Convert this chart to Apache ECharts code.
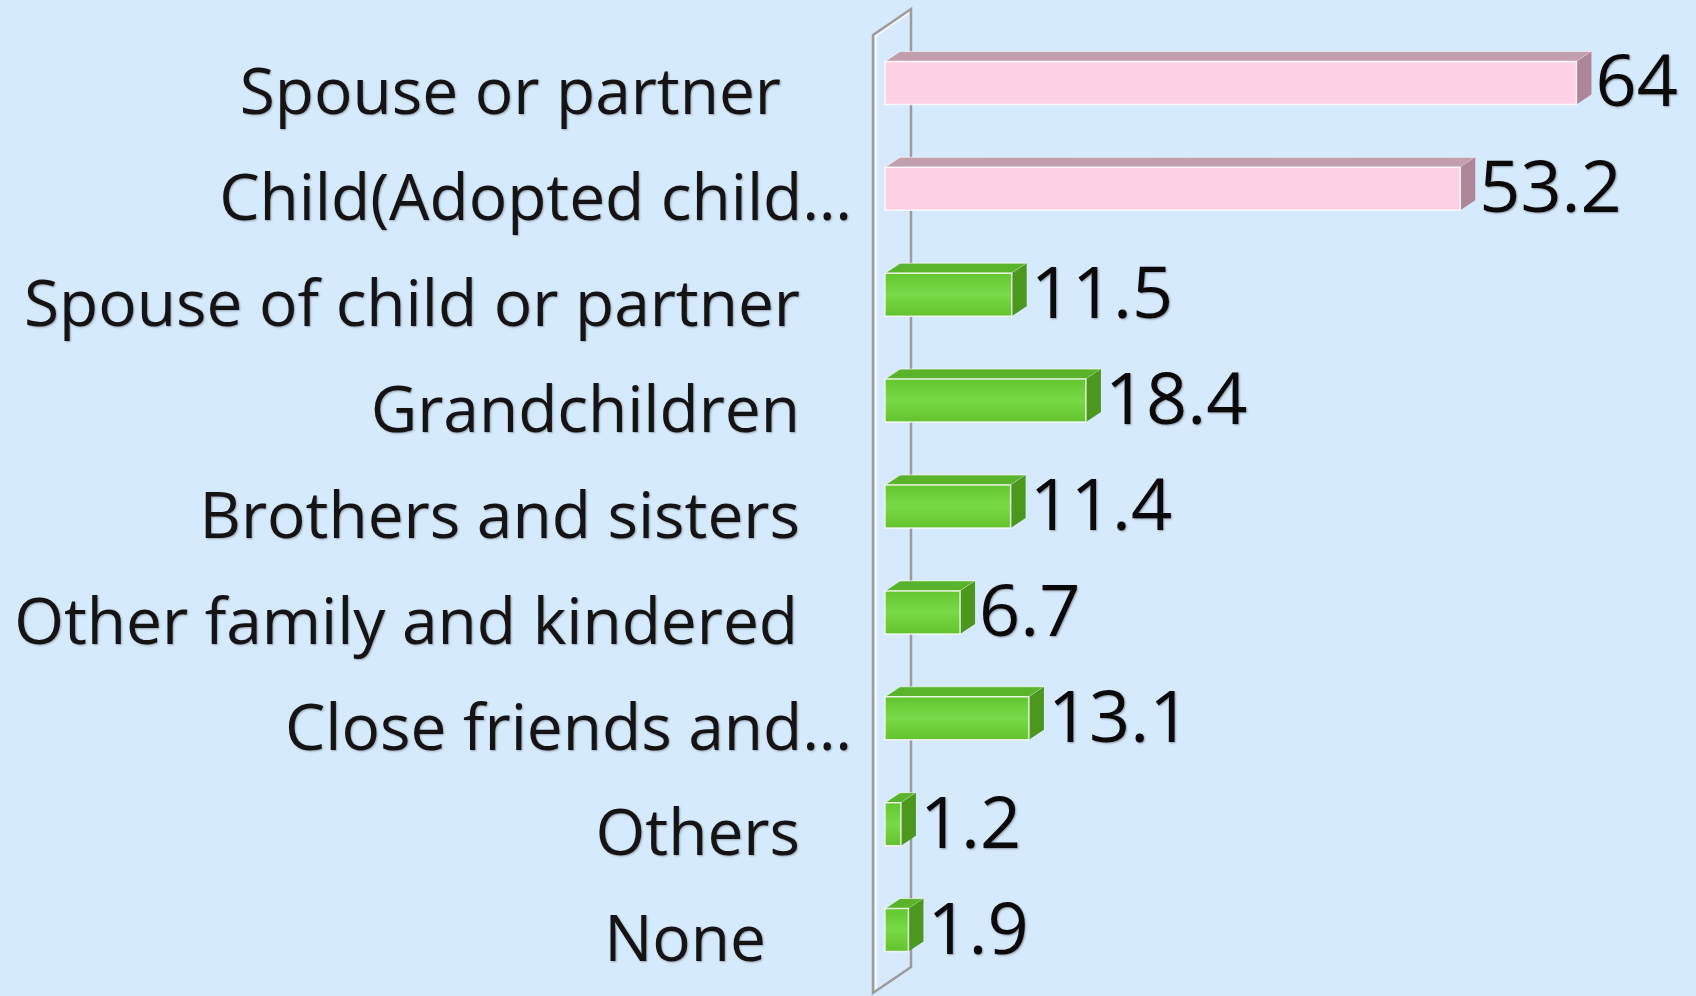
<!DOCTYPE html>
<html>
<head>
<meta charset="utf-8">
<script src="https://cdn.jsdelivr.net/npm/echarts@6/dist/echarts.min.js"></script>
<style>
  html, body { margin: 0; padding: 0; background: #d6eafd; }
  #chart { width: 1696px; height: 996px; }
</style>
</head>
<body>
<div id="chart"></div>
<script>
// data
const categories = [
  "Spouse or partner",
  "Child(Adopted child…",
  "Spouse of child or partner",
  "Grandchildren",
  "Brothers and sisters",
  "Other family and kindered",
  "Close friends and…",
  "Others",
  "None"
];
const values = [64, 53.2, 11.5, 18.4, 11.4, 6.7, 13.1, 1.2, 1.9];
const highlighted = [true, true, false, false, false, false, false, false, false];

// extra right padding per label (the source aligns them unevenly)
const labelPadRight = [71, 0, 52, 52, 52, 54, 0, 52, 86];

// bars sit a little above the label baseline (3D perspective)
const BAR_LIFT = 13;
const GRID = { left: 888, right: 55, top: 30 + BAR_LIFT, bottom: 5 - BAR_LIFT };
const DX = 15, DY = 10, FACE_H = 43;

const palette = {
  pink: { front: "#fdd2e6", top: "#c39eac", side: "#ad8797" },
  green: { front: ["#63c530", "#78da46", "#62c22e"], top: "#5ab42b", side: "#4c981f" }
};

const chart = echarts.init(document.getElementById("chart"));

function renderBar(params, api) {
  const v = api.value(0);
  const idx = api.value(1);
  const p0 = api.coord([0, idx]);
  const p1 = api.coord([v, idx]);
  const x0 = p0[0] - 3;
  const x1 = p1[0];
  const cy = p0[1] - BAR_LIFT;
  const top = cy - FACE_H / 2;
  const bottom = cy + FACE_H / 2;
  const col = highlighted[idx] ? palette.pink : palette.green;
  const frontFill = Array.isArray(col.front)
    ? new echarts.graphic.LinearGradient(0, 0, 0, 1, [
        { offset: 0, color: col.front[0] },
        { offset: 0.5, color: col.front[1] },
        { offset: 1, color: col.front[2] }
      ])
    : col.front;

  return {
    type: "group",
    children: [
      {
        type: "polygon",
        shape: { points: [[x0, top], [x0 + DX, top - DY], [x1 + DX, top - DY], [x1, top]] },
        style: { fill: col.top, stroke: "rgba(255,255,255,0.6)", lineWidth: 1 }
      },
      {
        type: "polygon",
        shape: { points: [[x1, top], [x1 + DX, top - DY], [x1 + DX, bottom - DY], [x1, bottom]] },
        style: { fill: col.side }
      },
      {
        type: "rect",
        shape: { x: x0, y: top, width: x1 - x0, height: FACE_H },
        style: { fill: frontFill, stroke: "rgba(255,255,255,0.8)", lineWidth: 1.5 }
      },
      {
        type: "text",
        style: {
          text: String(v),
          x: x1 + DX + 4,
          y: cy + 3,
          verticalAlign: "middle",
          align: "left",
          font: '72px "Open Sans"',
          fill: "#0a0a0a",
          textShadowColor: "rgba(0,0,0,0.35)",
          textShadowBlur: 2,
          textShadowOffsetX: 1,
          textShadowOffsetY: 1
        }
      }
    ]
  };
}

// back wall of the 3D plot, placed from the grid
const wallFrontX = GRID.left - 15;
const wallBackX = GRID.left + 23;
const wallTop = GRID.top - BAR_LIFT;
const wallBottom = 993;

chart.setOption({
  backgroundColor: "#d6eafd",
  animation: false,
  grid: GRID,
  xAxis: {
    type: "value",
    min: 0,
    max: 70,
    show: false
  },
  yAxis: {
    type: "category",
    inverse: true,
    data: categories.map((c, i) => ({
      value: c,
      textStyle: { padding: [0, labelPadRight[i], 0, 0] }
    })),
    axisLine: { show: false },
    axisTick: { show: false },
    splitLine: { show: false },
    axisLabel: {
      margin: 36,
      fontFamily: "Open Sans",
      fontSize: 64,
      color: "#141414",
      textShadowColor: "rgba(0,0,0,0.3)",
      textShadowBlur: 2,
      textShadowOffsetX: 1,
      textShadowOffsetY: 1
    }
  },
  graphic: [
    {
      type: "polygon",
      z: 0,
      shape: {
        points: [
          [wallFrontX, wallTop + 5],
          [wallBackX, wallTop - 21],
          [wallBackX, wallBottom - 26],
          [wallFrontX, wallBottom]
        ]
      },
      style: { fill: "rgba(255,255,255,0.04)", stroke: "#9c9c9c", lineWidth: 2.5 }
    },
    {
      type: "polyline",
      z: 0,
      shape: {
        points: [
          [wallFrontX + 3, wallBottom - 4],
          [wallFrontX + 3, wallTop + 6],
          [wallBackX - 2, wallTop - 17]
        ]
      },
      style: { stroke: "rgba(255,255,255,0.8)", lineWidth: 1.5, fill: null }
    }
  ],
  series: [
    {
      type: "custom",
      z: 5,
      renderItem: renderBar,
      encode: { x: 0, y: 1 },
      data: values.map((v, i) => [v, i])
    }
  ]
});
</script>
</body>
</html>
